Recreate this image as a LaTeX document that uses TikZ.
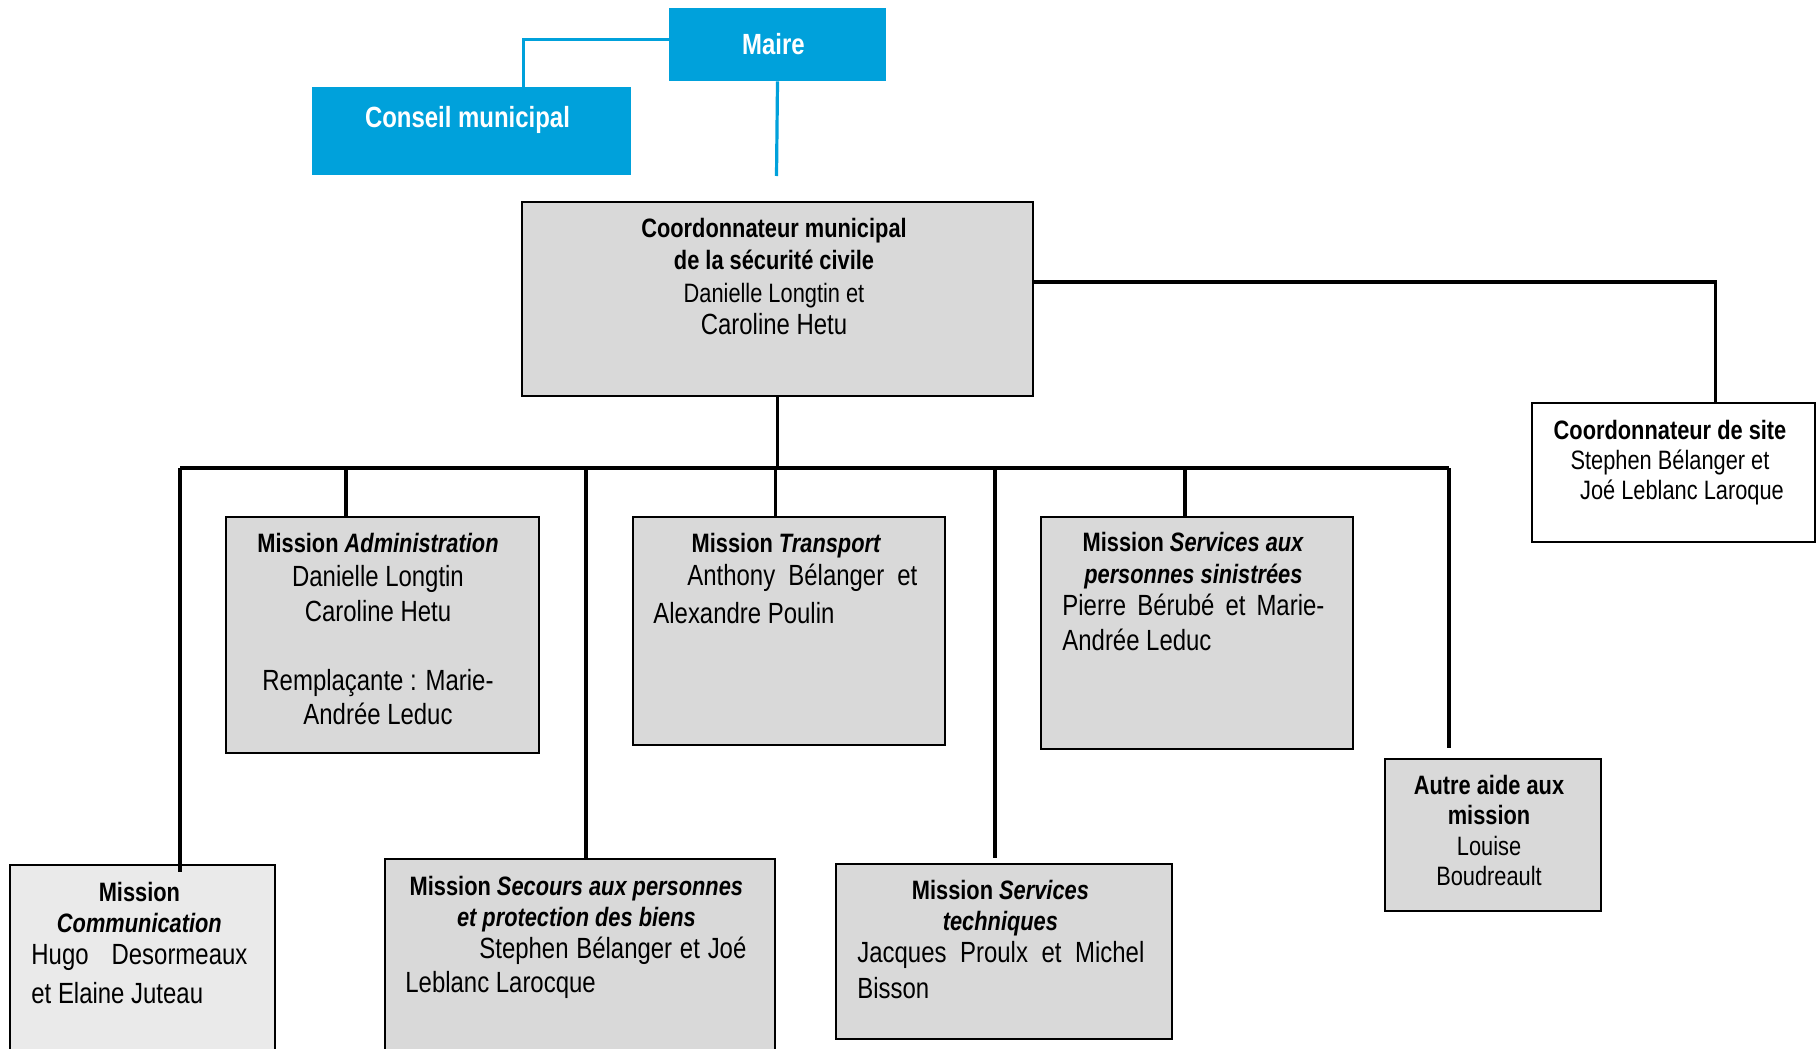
\documentclass[tikz,border=0pt]{standalone}
\usepackage{fontspec}
\setmainfont{Liberation Sans}[FakeStretch=0.82]
\definecolor{mblue}{RGB}{0,161,219}
\definecolor{boxgray}{RGB}{217,217,217}
\definecolor{lightgraybox}{RGB}{234,234,234}
\newcommand\hdfont{\fontsize{13.3}{16}\selectfont}
\newcommand\nmfont{\fontsize{14.6}{17.5}\selectfont}
\newcommand\fstrut{\rule{0pt}{13.3pt}}
\tikzset{
  bluebox/.style={fill=mblue, draw=none, inner sep=0pt},
  graybox/.style={fill=boxgray, draw=black, line width=1.1pt, inner sep=0pt},
  whitebox/.style={fill=white, draw=black, line width=1.1pt, inner sep=0pt},
  link/.style={draw=black, line width=1.8pt},
  bluelink/.style={draw=mblue, line width=1.6pt},
  txt/.style={inner sep=0pt, font=\hdfont},
}
\begin{document}
\begin{tikzpicture}[x=0.5pt,y=-0.5pt]
\useasboundingbox (0,0) rectangle (1820,1049);
\clip (0,0) rectangle (1820,1049);
\fill[white] (0,0) rectangle (1820,1049);

% top blue boxes
\node[bluebox, minimum width=108.5pt, minimum height=36.5pt] (maire) at (777.5,44.5) {};
\node[txt, text=white, font=\fontsize{14.6}{17}\selectfont\bfseries] (maireT) at (773.5,44.5) {Maire};
\node[bluebox, minimum width=159.5pt, minimum height=44pt] (conseil) at (471.5,131) {};
\node[txt, text=white, font=\fontsize{14.6}{17}\selectfont\bfseries] (conseilT) at (467.5,120) {Conseil municipal};

% coordinator
\node[graybox, minimum width=255.5pt, minimum height=97pt] (coord) at (777.5,299) {};
\node[txt, anchor=north, align=center, font=\fontsize{13.3}{16.25}\selectfont] (coordT) at (774,210)
  {\fstrut\bfseries Coordonnateur municipal\\ \bfseries de la sécurité civile\\ Danielle Longtin et\\ \nmfont Caroline Hetu};

% site coordinator
\node[whitebox, minimum width=141.5pt, minimum height=69.5pt] (site) at (1673.5,472.5) {};
\node[txt, anchor=north, align=center, font=\fontsize{13.3}{15}\selectfont] (siteT) at (1670,412)
  {\fstrut\bfseries Coordonnateur de site\\ Stephen Bélanger et\\ \hspace*{12pt}Joé Leblanc Laroque};

% Administration
\node[graybox, minimum width=156.5pt, minimum height=118pt] (admin) at (382.5,635) {};
\node[txt, anchor=north, align=center, font=\fontsize{13.3}{17.25}\selectfont] (adminT) at (378,525)
  {\fstrut\bfseries Mission \textit{Administration}\\ \nmfont Danielle Longtin\\ \nmfont Caroline Hetu\\[17.25pt] \nmfont Remplaçante : Marie-\\ \nmfont Andrée Leduc};

% Transport
\node[graybox, minimum width=156pt, minimum height=114pt] (trans) at (789,631) {};
\node[txt, anchor=north west, align=left, font=\fontsize{13.3}{16.5}\selectfont] (transT) at (653,525)
  {\fstrut\makebox[133pt]{\bfseries Mission \textit{Transport}}\\ \nmfont\hspace*{17pt}\makebox[115pt][s]{Anthony Bélanger et}\\[2.5pt] \nmfont Alexandre Poulin};

% Services aux personnes sinistrees
\node[graybox, minimum width=156pt, minimum height=116pt] (sin) at (1197,633) {};
\node[txt, anchor=north west, align=left, font=\fontsize{13.3}{16}\selectfont] (sinT) at (1062,524)
  {\fstrut\makebox[131pt]{\bfseries Mission \textit{Services aux}}\\ \makebox[131pt]{\bfseries\itshape personnes sinistrées}\\ \nmfont\makebox[131pt][s]{Pierre Bérubé et Marie-}\\[1.5pt] \nmfont Andrée Leduc};

% Communication
\node[graybox, fill=lightgraybox, minimum width=132.5pt, minimum height=100pt] (comm) at (142.5,965) {};
\node[txt, anchor=north west, align=left, font=\fontsize{13.3}{15.75}\selectfont] (commT) at (31,874)
  {\fstrut\makebox[108pt]{\bfseries Mission}\\ \makebox[108pt]{\bfseries\itshape Communication}\\ \nmfont\makebox[108pt][s]{Hugo\hspace{6pt} Desormeaux}\\[3.75pt] \nmfont et Elaine Juteau};

% Secours
\node[graybox, minimum width=195pt, minimum height=103pt] (sec) at (580,962) {};
\node[txt, anchor=north west, align=left, font=\fontsize{13.3}{15.5}\selectfont] (secT) at (405,868)
  {\fstrut\makebox[171pt]{\bfseries Mission \textit{Secours aux personnes}}\\ \makebox[171pt]{\bfseries\itshape et protection des biens}\\[0.5pt] \nmfont\hspace*{37pt}\makebox[133.5pt][s]{Stephen Bélanger et Joé}\\[1.5pt] \nmfont Leblanc Larocque};

% Services techniques
\node[graybox, minimum width=168pt, minimum height=87.5pt] (st) at (1004,951.5) {};
\node[txt, anchor=north west, align=left, font=\fontsize{13.3}{15.75}\selectfont] (stT) at (857,872)
  {\fstrut\makebox[143pt]{\bfseries Mission \textit{Services}}\\ \makebox[143pt]{\bfseries\itshape techniques}\\ \nmfont\makebox[143.5pt][s]{Jacques Proulx et Michel}\\[2.25pt] \nmfont Bisson};

% Autre aide
\node[graybox, minimum width=108pt, minimum height=76pt] (autre) at (1493,835) {};
\node[txt, anchor=north, align=center, font=\fontsize{13.3}{15.25}\selectfont] (autreT) at (1489,767)
  {\fstrut\bfseries Autre aide aux\\ \bfseries mission\\ Louise\\ Boudreault};

% connector coordinates
\coordinate (mEnd) at (776.5,176);
\coordinate (cTop) at (523.5,87);
\coordinate (sTop) at (1715.5,403);
\coordinate (busL) at (180,468);
\coordinate (busR) at (1449,468);
\coordinate (dA) at (346,468);
\coordinate (dSec) at (586,468);
\coordinate (dTr) at (775.5,468);
\coordinate (dST) at (995,468);
\coordinate (dSin) at (1185,468);

% blue connectors
\draw[bluelink] (maire.south) -- (mEnd);
\draw[bluelink] ([yshift=2.5pt]maire.west) -| (cTop);

% black connectors
\draw[link] ([yshift=8.5pt]coord.east) -| (sTop);
\draw[link] (coord.south) -- (coord.south |- busL);
\draw[link] (busL) -- (busR);
\draw[link] (busL) -- ([yshift=-4pt]busL |- comm.north);
\draw[link] (dA) -- (dA |- admin.north);
\draw[link] (dSec) -- (dSec |- sec.north);
\draw[link] (dTr) -- (dTr |- trans.north);
\draw[link] (dST) -- ([yshift=2.5pt]dST |- st.north);
\draw[link] (dSin) -- (dSin |- sin.north);
\draw[link] (busR) -- ([yshift=5pt]busR |- autre.north);
\end{tikzpicture}
\end{document}
